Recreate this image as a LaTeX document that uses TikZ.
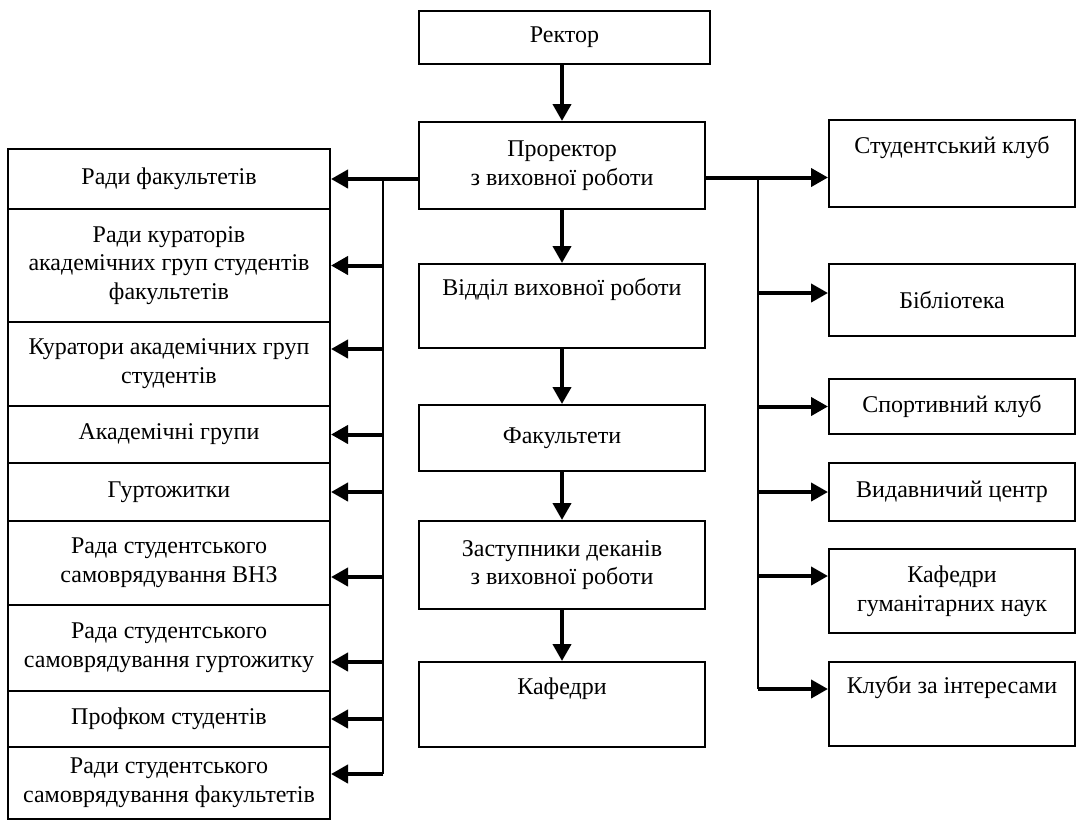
\documentclass[tikz,border=0pt]{standalone}
\usepackage{fontspec}
\setmainfont{Liberation Serif}
\usetikzlibrary{positioning,arrows.meta}

\begin{document}
\begin{tikzpicture}[x=0.5pt, y=-0.5pt, >={Triangle[length=8.5pt,width=9pt]},
  box/.style={draw, line width=1pt, align=center, inner sep=2pt, font=\fontsize{12}{14.4}\selectfont},
  lbox/.style={box, minimum width=161pt},
  cbox/.style={box, minimum width=143pt},
  rbox/.style={box, minimum width=123pt},
  arr/.style={->, line width=2pt},
  bus/.style={line width=1pt}]

\useasboundingbox (0,0) rectangle (1076,820);

% centre column
\node[box, minimum width=145.5pt, minimum height=26.5pt] (rk) at (564.5,37.5) {Ректор};
\node[cbox, minimum height=43.5pt] (pr) at (562,165.5) {Проректор\\з виховної роботи};
\node[cbox, minimum height=42pt] (vv) at (562,306) {Відділ виховної роботи\\ \strut};
\node[cbox, minimum height=33pt] (fa) at (562,438) {Факультети};
\node[cbox, minimum height=44pt] (zd) at (562,565) {Заступники деканів\\з виховної роботи};
\node[cbox, minimum height=42.5pt] (kf) at (562,704.5) {Кафедри\\ \strut};

% left column
\node[lbox, minimum height=30pt] (rf) at (169,179) {Ради факультетів};
\node[lbox, minimum height=56.5pt] (rkg) at (169,265.5) {Ради кураторів\\академічних груп студентів\\факультетів};
\node[lbox, minimum height=42pt] (ka) at (169,364) {Куратори академічних груп\\студентів};
\node[lbox, minimum height=28.5pt] (ag) at (169,434.5) {Академічні групи};
\node[lbox, minimum height=29pt] (gu) at (169,492) {Гуртожитки};
\node[lbox, minimum height=42pt] (rv) at (169,563) {Рада студентського\\самоврядування ВНЗ};
\node[lbox, minimum height=43pt] (rg) at (169,648) {Рада студентського\\самоврядування гуртожитку};
\node[lbox, minimum height=28pt] (pf) at (169,719) {Профком студентів};
\node[lbox, minimum height=36pt] (rs) at (169,783) {Ради студентського\\самоврядування факультетів};

% right column
\node[rbox, minimum height=43.5pt] (sk) at (952,163.5) {Студентський клуб\\ \strut};
\node[rbox, minimum height=36pt] (bi) at (952,300) {Бібліотека};
\node[rbox, minimum height=27.5pt] (sp) at (952,406.5) {Спортивний клуб};
\node[rbox, minimum height=29pt] (vc) at (952,492) {Видавничий центр};
\node[rbox, minimum height=42pt] (kh) at (952,591) {Кафедри\\гуманітарних наук};
\node[rbox, minimum height=42pt] (ki) at (952,704) {Клуби за інтересами\\ \strut};

% down the middle
\draw[arr] (rk.south -| pr.north) -- (pr.north);
\draw[arr] (pr) -- (vv);
\draw[arr] (vv) -- (fa);
\draw[arr] (fa) -- (zd);
\draw[arr] (zd) -- (kf);

% to the left
\coordinate (lbus) at (383,179);
\draw[arr] (pr.west |- rf.east) -- (rf.east);
\draw[bus] (lbus) -- ([yshift=4.5pt]rs.east -| lbus);
\foreach \n/\s in {rkg/0pt, ka/7.5pt, ag/0pt, gu/0pt, rv/-7pt, rg/-7pt, pf/0pt, rs/4.5pt}
  \draw[arr] ([yshift=\s]\n.east -| lbus) -- ([yshift=\s]\n.east);

% to the right
\coordinate (rbus) at (758,177.5);
\draw[arr] ([yshift=-6pt]pr.east) -- ([yshift=-6pt]pr.east -| sk.west);
\draw[bus] (rbus) -- ([yshift=7.5pt]ki.west -| rbus);
\foreach \n/\s in {bi/3.5pt, sp/0pt, vc/0pt, kh/7.5pt, ki/7.5pt}
  \draw[arr] ([yshift=\s]\n.west -| rbus) -- ([yshift=\s]\n.west);

\end{tikzpicture}
\end{document}
